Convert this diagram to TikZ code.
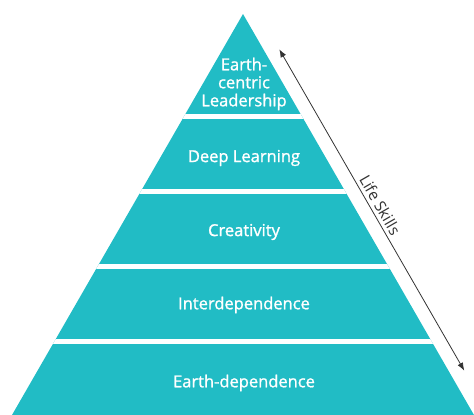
\documentclass[tikz,border=0pt]{standalone}
\usepackage{fontspec}
\setmainfont{Open Sans}
\newfontfamily\labfont{Open Sans}[FakeBold=1.2]
\usepackage{tikz}
\usetikzlibrary{arrows.meta}
\definecolor{pyr}{HTML}{21BCC5}
\definecolor{ink}{HTML}{333333}
\tikzset{
  layer/.style={fill=pyr},
  split/.style={draw=white, line width=5pt},
  lab/.style={text=white, font=\labfont\fontsize{16.5}{18}\selectfont, align=center},
  side/.style={text=ink, font=\fontsize{15.5}{18}\selectfont},
  span/.style={draw=ink, line width=0.8pt, {Latex[length=8pt,width=6pt]}-{Latex[length=8pt,width=6pt]}}
}
\begin{document}
\begin{tikzpicture}[x=1pt,y=-1pt]
\useasboundingbox (0,0) rectangle (474,415);
\coordinate (apex) at (243,14);
\coordinate (bl) at (12,415);
\coordinate (br) at (474,415);
\fill[layer] (apex) -- (bl) -- (br) -- cycle;
\begin{scope}
\clip (apex) -- (bl) -- (br) -- cycle;
\foreach \y in {116.5,191,266.5,341}
  \draw[split] (0,\y) -- (474,\y);
\end{scope}

\node[lab] (lead) at (244,84) {Earth-\\centric\\Leadership};
\node[lab] (deep) at (244,158) {Deep Learning};
\node[lab] (crea) at (244,232) {Creativity};
\node[lab] (inter) at (244,305) {Interdependence};
\node[lab] (earth) at (244,383) {Earth-dependence};

% life skills arrow along the right side
\coordinate (up) at (279.3,49.3);
\coordinate (dn) at (464.3,370.7);
\draw[span] (up) -- node[side, midway, sloped, above] (life) {Life Skills} (dn);
\end{tikzpicture}
\end{document}
